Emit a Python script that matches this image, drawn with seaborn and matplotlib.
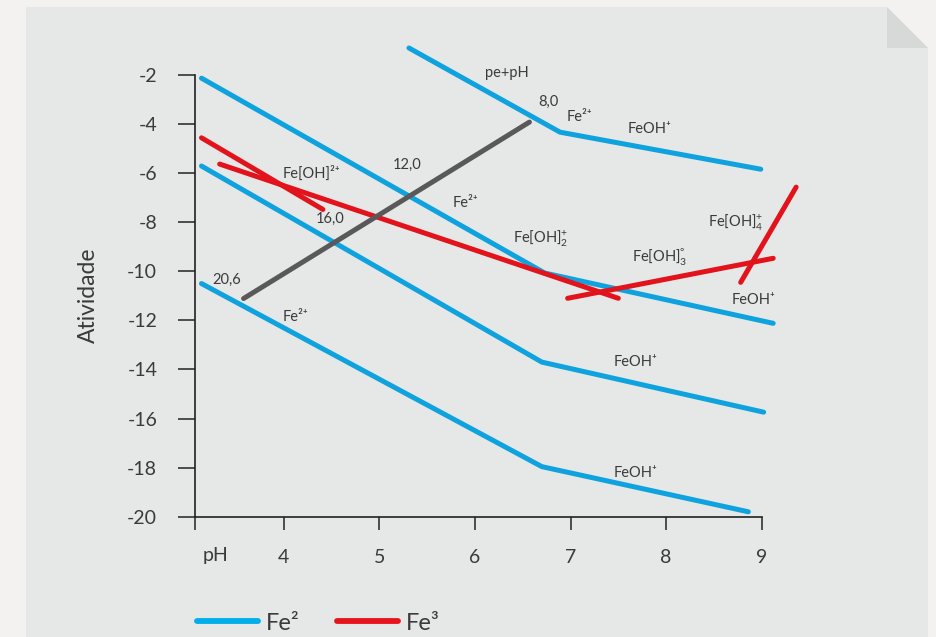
import matplotlib
matplotlib.use("Agg")
import matplotlib.pyplot as plt
import numpy as np
import pandas as pd
import seaborn as sns
from matplotlib.patches import Polygon
from matplotlib.lines import Line2D

# ---------------- data ----------------
# Fe2+ family lines (blue)
fe2_top_ph = [5.31, 6.89, 8.99]
fe2_top_act = [-0.90, -4.33, -5.84]
fe2_b_ph = [3.14, 6.73, 9.12]
fe2_b_act = [-2.13, -10.07, -12.12]
fe2_c_ph = [3.14, 6.70, 9.02]
fe2_c_act = [-5.71, -13.70, -15.74]
fe2_d_ph = [3.14, 6.70, 8.86]
fe2_d_act = [-10.50, -17.96, -19.80]
# Fe3+ family lines (red)
fe3_a_ph = [3.14, 4.41]
fe3_a_act = [-4.56, -7.48]
fe3_b_ph = [3.33, 7.50]
fe3_b_act = [-5.63, -11.10]
fe3_c_ph = [6.97, 9.12]
fe3_c_act = [-11.10, -9.47]
fe3_d_ph = [8.78, 9.36]
fe3_d_act = [-10.45, -6.57]
# pe+pH line (gray)
pe_ph = [3.58, 6.57]
pe_act = [-11.11, -3.92]

x_ticks = [4, 5, 6, 7, 8, 9]
y_ticks = [-2, -4, -6, -8, -10, -12, -14, -16, -18, -20]
legend_labels = ["Fe²", "Fe³"]

annotations = [
    ("pe+pH", 6.105, -1.92),
    ("8,0", 6.66, -3.10),
    ("Fe²⁺", 6.963, -3.71),
    ("FeOH⁺", 7.60, -4.20),
    ("12,0", 5.145, -5.67),
    ("Fe[OH]²⁺", 3.993, -6.00),
    ("16,0", 4.338, -7.88),
    ("Fe²⁺", 5.771, -7.22),
    (r"Fe[OH]$_{2}^{+}$", 6.399, -8.65),
    (r"Fe[OH]$_{3}^{°}$", 7.644, -9.45),
    (r"Fe[OH]$_{4}^{+}$", 8.439, -8.00),
    ("FeOH⁺", 8.69, -11.18),
    ("20,6", 3.252, -10.33),
    ("Fe²⁺", 3.993, -11.88),
    ("FeOH⁺", 7.456, -13.71),
    ("FeOH⁺", 7.456, -18.20),
]

series = [
    ("fe2_top", "Fe2", fe2_top_ph, fe2_top_act),
    ("fe2_b", "Fe2", fe2_b_ph, fe2_b_act),
    ("fe2_c", "Fe2", fe2_c_ph, fe2_c_act),
    ("fe2_d", "Fe2", fe2_d_ph, fe2_d_act),
    ("fe3_a", "Fe3", fe3_a_ph, fe3_a_act),
    ("fe3_b", "Fe3", fe3_b_ph, fe3_b_act),
    ("fe3_c", "Fe3", fe3_c_ph, fe3_c_act),
    ("fe3_d", "Fe3", fe3_d_ph, fe3_d_act),
    ("pe", "pe", pe_ph, pe_act),
]
rows = []
for sid, grp, xs, ys in series:
    for i, (xv, yv) in enumerate(zip(xs, ys)):
        rows.append({"id": sid, "grupo": grp, "pH": xv, "atividade": yv, "ordem": i})
df = pd.DataFrame(rows)

# ---------------- style ----------------
sns.set_theme(style="white")
plt.rcParams["font.family"] = ["Lato", "DejaVu Sans"]
plt.rcParams["mathtext.fontset"] = "custom"
plt.rcParams["mathtext.rm"] = "Lato"
plt.rcParams["mathtext.it"] = "Lato:italic"
plt.rcParams["mathtext.bf"] = "Lato:bold"
plt.rcParams["mathtext.default"] = "regular"
plt.rcParams["axes.unicode_minus"] = False

BLUE = "#0ea2df"
RED = "#e2131b"
GRAY = "#595959"
TXT = "#3a3a3a"
AXC = "#222222"
palette = {"Fe2": BLUE, "Fe3": RED, "pe": GRAY}

W, H = 937, 637
fig = plt.figure(figsize=(W / 100, H / 100), dpi=100)
fig.patch.set_facecolor("#f3f2f0")


def fx(px):
    return px / W


def fy(py):
    return 1 - py / H


panel = Polygon([(fx(26), fy(7)), (fx(887), fy(7)), (fx(928), fy(48)),
                 (fx(928), fy(640)), (fx(26), fy(640))], closed=True,
                transform=fig.transFigure, facecolor="#e6e7e7", edgecolor="none", zorder=-3)
fold = Polygon([(fx(887), fy(7)), (fx(887), fy(48)), (fx(928), fy(48))], closed=True,
               transform=fig.transFigure, facecolor="#d7d8d8", edgecolor="none", zorder=-2)
fig.patches.extend([panel, fold])

ax = fig.add_axes([195 / W, 1 - 516.7 / H, 615 / W, 486.7 / H])
ax.set_zorder(2)
ax.patch.set_visible(False)

sns.lineplot(data=df, x="pH", y="atividade", hue="grupo", units="id", estimator=None,
             sort=False, palette=palette, linewidth=3.6, legend=False, ax=ax,
             solid_capstyle="round", solid_joinstyle="round")

x_left = 3.072
ax.set_xlim(x_left, 9.505)
ax.set_ylim(-20, -0.167)
for s in ["top", "right"]:
    ax.spines[s].set_visible(False)
for s in ["left", "bottom"]:
    ax.spines[s].set_color(AXC)
    ax.spines[s].set_linewidth(1.2)
ax.spines["left"].set_bounds(-20, -2)
ax.spines["bottom"].set_bounds(x_left, 9)

ax.set_yticks(y_ticks)
ax.set_yticklabels([str(v) for v in y_ticks])
ax.set_xticks([x_left] + x_ticks)
ax.set_xticklabels([""] + [str(v) for v in x_ticks])
ax.tick_params(axis="y", direction="out", length=12.2, width=1.1, pad=15,
               labelsize=14, color=AXC, labelcolor=TXT, left=True)
ax.tick_params(axis="x", direction="out", length=9.5, width=1.1, pad=14,
               labelsize=14, color=AXC, labelcolor=TXT, bottom=True)
ax.set_xlabel("")
ax.set_ylabel("")
ax.grid(False)

for txt, xv, yv in annotations:
    ax.text(xv, yv, txt, ha="left", va="center", fontsize=10.5, color=TXT)

fig.text(fx(216), fy(556), "pH", ha="center", va="center", fontsize=14, color=TXT)
fig.text(fx(88), fy(295), "Atividade", rotation=90, ha="center", va="center",
         fontsize=16.5, color=TXT)

handles = [Line2D([0], [0], color="#00aeea", lw=4.2),
           Line2D([0], [0], color="#e8141c", lw=4.2)]
leg = fig.legend(handles=handles, labels=legend_labels, loc="center left",
                 bbox_to_anchor=(fx(197), fy(623)), ncol=2, frameon=False,
                 fontsize=17, handlelength=2.6, handletextpad=0.3,
                 columnspacing=1.6, borderpad=0, borderaxespad=0)
for t in leg.get_texts():
    t.set_color(TXT)

fig.savefig("out.png", dpi=100, facecolor=fig.get_facecolor())
